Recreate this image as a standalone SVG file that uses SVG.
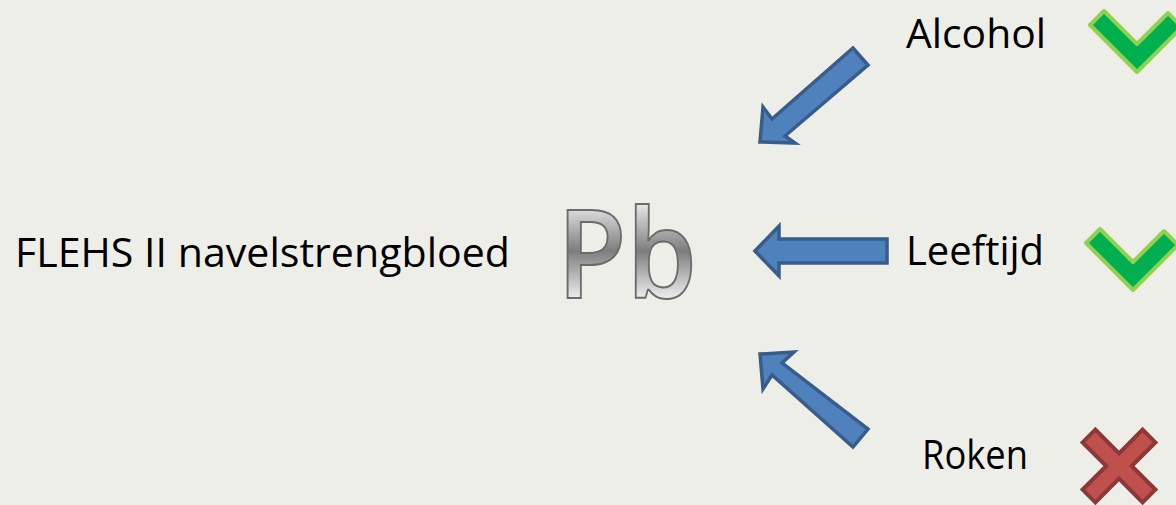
<svg xmlns="http://www.w3.org/2000/svg" width="1176" height="505" viewBox="0 0 1176 505">
  <defs>
    <linearGradient id="pbGrad" gradientUnits="userSpaceOnUse" x1="0" y1="202" x2="0" y2="300">
      <stop offset="0" stop-color="#ececec"/>
      <stop offset="0.5" stop-color="#7d7d7d"/>
      <stop offset="1" stop-color="#f2f2f2"/>
    </linearGradient>
    <style>
      .lbl { font-family: "Open Sans", "Liberation Sans", Arial, sans-serif; font-size: 41px; fill: #000; }
      .arrow { fill: #4f81bd; stroke: #385d8a; stroke-width: 3.5; stroke-linejoin: miter; }
      .check { fill: #00b050; stroke: #92d050; stroke-width: 4; stroke-linejoin: round; }
      .cross { fill: #c0504d; stroke: #8c3836; stroke-width: 4; stroke-linejoin: miter; }
    </style>
  </defs>
  <rect x="0" y="0" width="1176" height="505" fill="#eeeee9"/>

  <g id="source">
    <text class="lbl" x="15" y="267" textLength="495" lengthAdjust="spacingAndGlyphs">FLEHS II navelstrengbloed</text>
  </g>

  <g id="pb">
    <text x="557" y="298" font-family="'Open Sans', 'Liberation Sans', Arial, sans-serif" font-weight="600" font-size="124" fill="url(#pbGrad)" stroke="#6b6b6b" stroke-width="2" textLength="140" lengthAdjust="spacingAndGlyphs">Pb</text>
  </g>

  <g id="alcohol">
    <text class="lbl" x="906" y="48" textLength="140" lengthAdjust="spacingAndGlyphs">Alcohol</text>
    <polygon class="check" points="1090,25 1104,11 1137,44 1168,13 1182,27 1137,72"/>
  </g>

  <g id="leeftijd">
    <text class="lbl" x="906" y="265" textLength="138" lengthAdjust="spacingAndGlyphs">Leeftijd</text>
    <polygon class="check" points="1086,243 1100,229 1133,262 1164,231 1178,245 1133,290"/>
  </g>

  <g id="roken">
    <text class="lbl" x="922" y="469" textLength="106" lengthAdjust="spacingAndGlyphs">Roken</text>
    <polygon class="cross" points="1119,453.3 1142.6,429.6 1155.4,442.4 1131.7,466 1155.4,489.6 1142.6,502.4 1119,478.7 1095.4,502.4 1082.6,489.6 1106.3,466 1082.6,442.4 1095.4,429.6"/>
  </g>

  <g id="connectors">
    <polygon class="arrow" points="760,142 763,107 772,119 853,48 868,65 785,136 795,143"/>
    <polygon class="arrow" points="755,251 779,226 779,239 887,239 887,263 779,263 779,276"/>
    <polygon class="arrow" points="760,354 794,352 782,363 868,429 853,447 772,375 763,389"/>
  </g>
</svg>
